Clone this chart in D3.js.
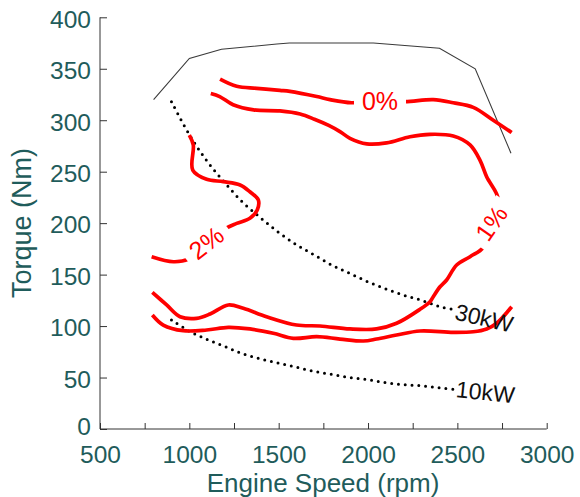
<!DOCTYPE html>
<html>
<head>
<meta charset="utf-8">
<script src="https://cdn.jsdelivr.net/npm/d3@7"></script>
<style>
  html, body { margin: 0; padding: 0; background: #fff; }
  svg { display: block; font-family: "Liberation Sans", Arial, sans-serif; }
</style>
</head>
<body>
<svg id="chart" width="580" height="497"></svg>
<script>
// ---------- data ----------
const xTickValues = [500, 1000, 1500, 2000, 2500, 3000];
const xMinorTicks = [750, 1250, 1750, 2250, 2750];
const yTickValues = [0, 50, 100, 150, 200, 250, 300, 350, 400];

// maximum torque envelope [rpm, Nm]
const envelope = [[800,320],[1000,360],[1180,369],[1490,374],[1560,375],[2030,375],[2400,370],[2600,350],[2800,268]];

// efficiency-loss contours [rpm, Nm]
const contour0 = [[1172,340],[1265,333],[1377,331],[1507,329],[1563,328],[1713,323],[1787,320],[1908,317],[2067,319],[2207,318],[2365,320],[2477,317],[2589,312.5],[2701,300],[2804,288]];
const contour1 = [[1120,326],[1170,323],[1245,315],[1360,310],[1507,309],[1620,306],[1700,301],[1780,295],[1843,289],[1899,282.4],[1993,277],[2104,278],[2235,284],[2347,286.3],[2477,284.7],[2571,276],[2627,261],[2664,245],[2729,223],[2687,200],[2645,176.5],[2571,167.4],[2496,159.3],[2440,144.8],[2403,138.2],[2365,128.5],[2347,123.7],[2291,116.3],[2160,102.7],[2048,97.2],[1899,97.2],[1731,100.1],[1600,101],[1432,109.1],[1302,117.3],[1218,120.5],[1116,111.7],[1041,107.5],[948,109.1],[873,120.5],[793,132.8]];
const contour2 = [[1000,285.6],[1022,276],[1019,251.6],[1097,242.6],[1190,240.3],[1284,237.1],[1339,230.5],[1386,222.5],[1380,212.8],[1339,204.7],[1265,199.8],[1205,195],[1100,180],[995,165],[911,162.5],[789,167.4]];
const contour3 = [[793,110.8],[854,101],[966,95.5],[1097,96.2],[1218,98.8],[1339,97.2],[1470,93],[1582,88.1],[1713,89.7],[1843,87.4],[1974,85.5],[2048,87.4],[2160,91.3],[2291,95.2],[2477,93.9],[2589,94.5],[2664,97.2],[2720,102.7],[2804,118.8]];

// constant power lines [rpm, Nm]
const power30 = [[900,318],[1000,286],[1100,260],[1200,239],[1300,220],[1400,205],[1500,191],[1600,179],[1700,169],[1800,159],[1900,151],[2000,143],[2100,136],[2200,130],[2300,125],[2400,119],[2480,116]];
const power10 = [[900,106],[1000,95],[1100,87],[1200,80],[1300,73],[1400,68],[1500,64],[1600,60],[1700,56],[1800,53],[1900,50],[2000,48],[2100,45],[2200,43],[2300,42],[2400,40],[2500,38]];

// contour labels: text, rpm, Nm, angle
const contourLabels = [["0%", 2067, 319, 0], ["1%", 2690, 200, -55], ["2%", 1095, 181, -38]];
const powerLabels = [["30kW", 2650, 108, 13], ["10kW", 2657, 36, 6]];

// ---------- drawing ----------
const svg = d3.select("#chart");
const textColor = "#1f5c5b";

const x = d3.scaleLinear().domain([500, 3000]).range([100, 546.7]);
const y = d3.scaleLinear().domain([0, 400]).range([429, 17.3]);

const line = d3.line().x(d => x(d[0])).y(d => y(d[1])).curve(d3.curveCatmullRom.alpha(0.5));
const straight = d3.line().x(d => x(d[0])).y(d => y(d[1]));

// axes
const xAxis = svg.append("g").attr("transform", "translate(0,429)")
  .call(d3.axisBottom(x).tickValues(xTickValues.concat(xMinorTicks)).tickSize(-6).tickFormat(d => xTickValues.includes(d) ? d : ""));
xAxis.select(".domain").attr("d", `M100,0H${x(3000)}`).attr("stroke", "#333");
xAxis.selectAll("line").attr("stroke", "#333");
xAxis.selectAll("text").attr("fill", textColor).attr("font-size", 24.5).attr("y", 17).attr("dy", "0.71em")
  .attr("font-family", "Liberation Sans, Arial, sans-serif");

const yAxis = svg.append("g").attr("transform", "translate(100,0)")
  .call(d3.axisLeft(y).tickValues(yTickValues).tickSize(-7).tickPadding(9));
yAxis.select(".domain").attr("d", `M0,${y(400)}V429`).attr("stroke", "#333");
yAxis.selectAll("line").attr("stroke", "#333");
yAxis.selectAll("text").attr("fill", textColor).attr("font-size", 24.5)
  .attr("dy", d => d === 0 ? "0.22em" : "0.4em")
  .attr("font-family", "Liberation Sans, Arial, sans-serif");

// axis titles
svg.append("text").attr("x", 323).attr("y", 492).attr("text-anchor", "middle")
  .attr("font-size", 26).attr("fill", textColor).text("Engine Speed (rpm)");
svg.append("text").attr("transform", "translate(31,223) rotate(-90)").attr("text-anchor", "middle")
  .attr("font-size", 27).attr("fill", textColor).text("Torque (Nm)");

// envelope
svg.append("path").attr("d", straight(envelope)).attr("fill", "none")
  .attr("stroke", "#3a3a3a").attr("stroke-width", 1.1);

// power lines (dotted)
[power30, power10].forEach(p => {
  svg.append("path").attr("d", line(p)).attr("fill", "none")
    .attr("stroke", "#000").attr("stroke-width", 3)
    .attr("stroke-linecap", "round").attr("stroke-dasharray", "0,6.8");
});

// contours
[contour0, contour1, contour2, contour3].forEach(c => {
  svg.append("path").attr("d", line(c)).attr("fill", "none")
    .attr("stroke", "#ff0000").attr("stroke-width", 3.7)
    .attr("stroke-linejoin", "round").attr("stroke-linecap", "butt");
});

// contour labels with gap
contourLabels.forEach(([t, r, n, a]) => {
  const g = svg.append("g").attr("transform", `translate(${x(r)},${y(n)}) rotate(${a})`);
  g.append("rect").attr("x", -26).attr("y", -12).attr("width", 52).attr("height", 24).attr("fill", "#fff");
  g.append("text").attr("text-anchor", "middle").attr("dy", "0.36em")
    .attr("font-size", 25).attr("fill", "#ff0000").text(t);
});

// power labels
powerLabels.forEach(([t, r, n, a]) => {
  svg.append("text").attr("transform", `translate(${x(r)},${y(n)}) rotate(${a})`)
    .attr("text-anchor", "middle").attr("dy", "0.36em")
    .attr("font-size", 23).attr("fill", "#111").text(t);
});
</script>
</body>
</html>
